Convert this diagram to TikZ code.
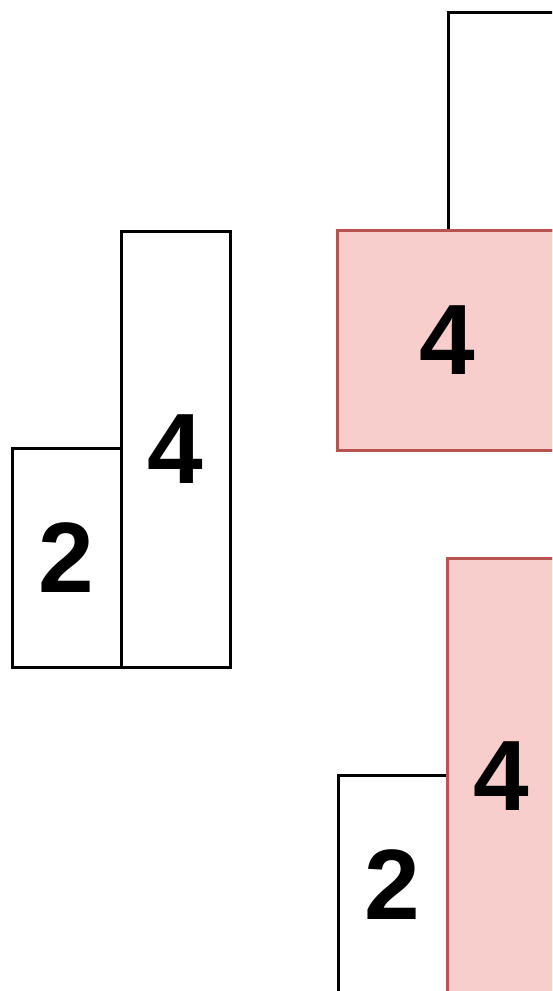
\documentclass[tikz,border=0pt]{standalone}
\usepackage{fontspec}
\setmainfont{Liberation Sans}
\usetikzlibrary{positioning}
\definecolor{barred}{HTML}{B85450}
\definecolor{barpink}{HTML}{F8CECC}
\tikzset{
  bar/.style={draw=black, fill=white, line width=1.5pt, inner sep=0pt, outer sep=0pt,
    font=\bfseries\fontsize{50}{60}\selectfont},
  hot/.style={bar, draw=barred, fill=barpink}
}
\begin{document}
\begin{tikzpicture}[x=0.5pt, y=-0.5pt]
  \useasboundingbox (0,0) rectangle (552,991);
  \clip (0,0) rectangle (552,991);

  % Define nodes
  % left pair
  \node[bar, anchor=north west, minimum width=54.5pt, minimum height=109.5pt] (l2) at (12,448) {2};
  \node[bar, anchor=south west, minimum width=54.5pt, minimum height=218pt]  (l4) at (l2.south east) {4};

  % top right
  \node[bar, anchor=north west, minimum width=54.5pt, minimum height=109pt] (t2) at (448,12) {};
  \node[hot, anchor=north west, minimum width=110pt, minimum height=110pt] (t4) at (337,230) {4};

  % bottom right
  \node[bar, anchor=north west, minimum width=54.5pt, minimum height=109.5pt] (b2) at (338,775) {2};
  \node[hot, anchor=south west, minimum width=54.5pt, minimum height=218pt]  (b4) at (b2.south east) {4};

\end{tikzpicture}
\end{document}
